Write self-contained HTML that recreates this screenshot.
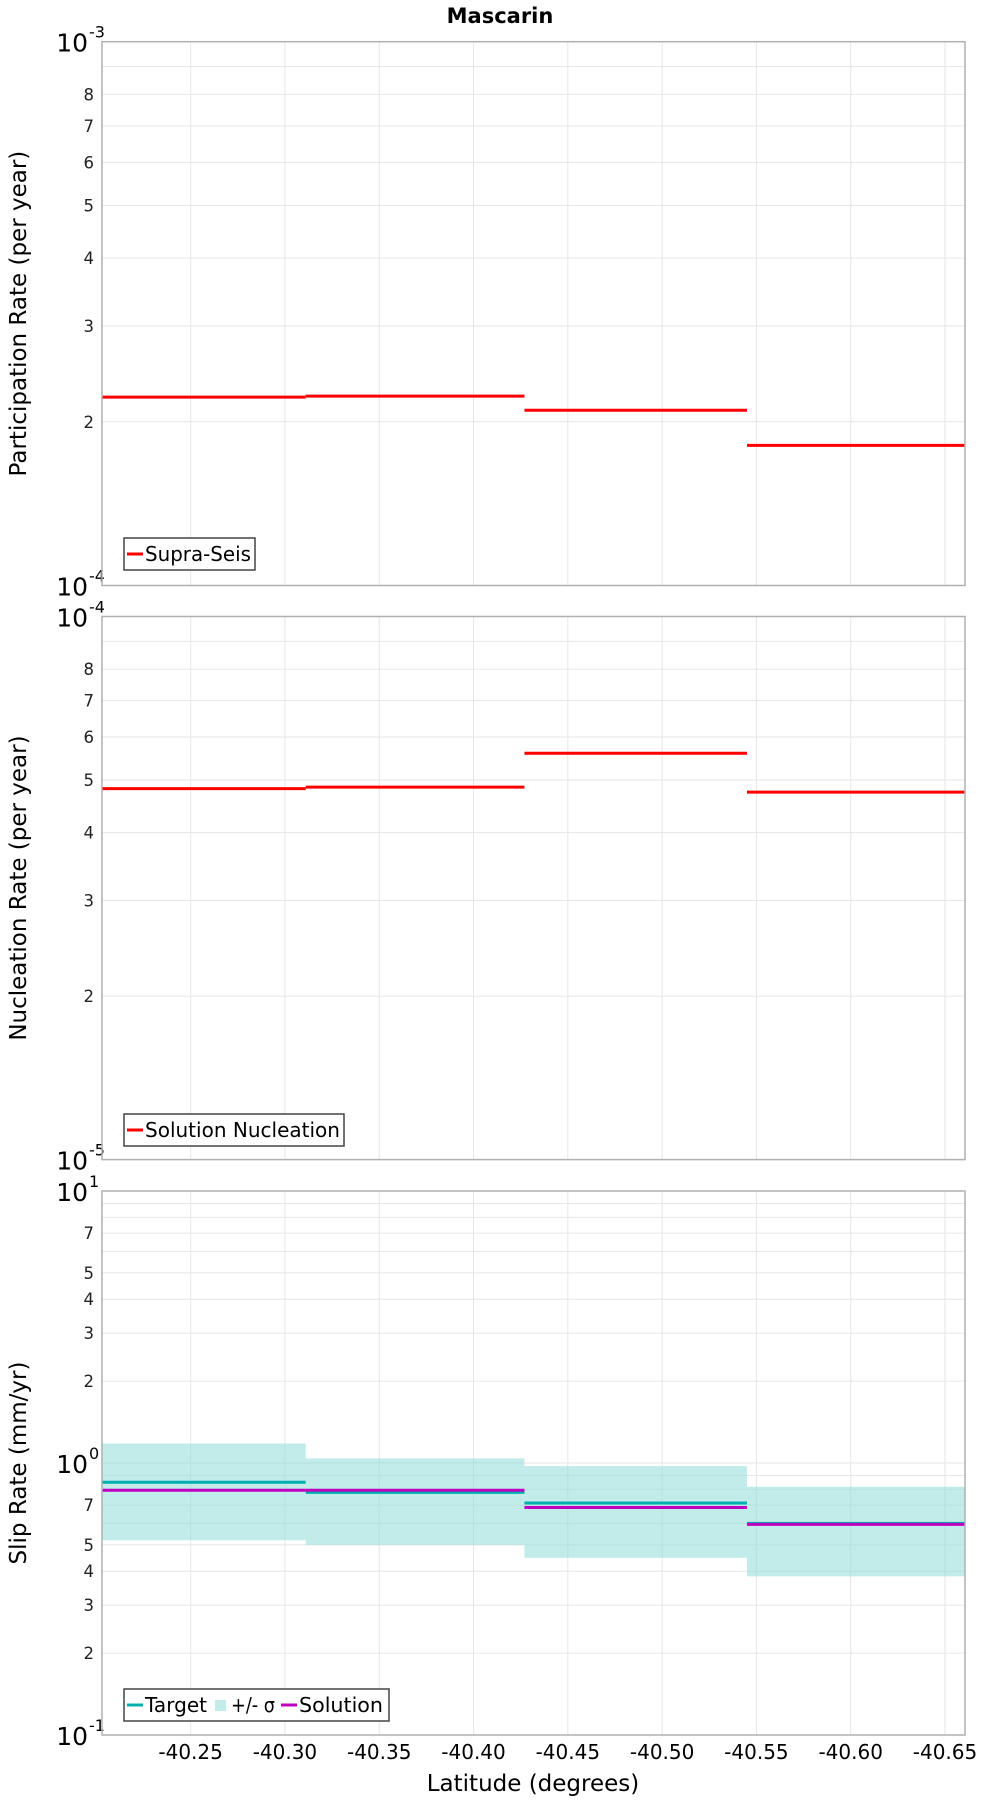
<!DOCTYPE html>
<html><head><meta charset="utf-8"><style>
body{margin:0;background:#fff}
svg text{font-family:"DejaVu Sans","Liberation Sans",sans-serif}
</style></head><body>
<svg id="chart" width="1000" height="1800" xmlns="http://www.w3.org/2000/svg">
<text x="500" y="23" text-anchor="middle" font-size="21" font-weight="bold">Mascarin</text>
</svg>
<script>
const boundaries = [-40.203, -40.311, -40.427, -40.545, -40.6606];
const xTicks = [-40.25, -40.30, -40.35, -40.40, -40.45, -40.50, -40.55, -40.60, -40.65];
const xTickLabels = ["-40.25","-40.30","-40.35","-40.40","-40.45","-40.50","-40.55","-40.60","-40.65"];
const supraSeis = [2.22e-4, 2.23e-4, 2.10e-4, 1.81e-4];
const nucleation = [4.82e-5, 4.85e-5, 5.6e-5, 4.75e-5];
const slipTarget = [0.85, 0.78, 0.713, 0.60];
const slipSolution = [0.794, 0.794, 0.686, 0.595];
const slipUpper = [1.18, 1.04, 0.974, 0.818];
const slipLower = [0.52, 0.50, 0.448, 0.383];
const p1Labels = [2,3,4,5,6,7,8];
const p3Labels = [2,3,4,5,7];

const NS="http://www.w3.org/2000/svg", svg=document.getElementById('chart');
const L=102,R=965;
function xs(v){return L+(v-boundaries[0])/(boundaries[4]-boundaries[0])*(R-L);}
function mk(tag,attrs,parent){const e=document.createElementNS(NS,tag);for(const k in attrs)e.setAttribute(k,attrs[k]);(parent||svg).appendChild(e);return e;}
function panel(top,bot,minExp,maxExp,labels,title,name){
  const g=mk('g',{});
  
  
  const ys=v=>bot-(Math.log10(v)-minExp)/(maxExp-minExp)*(bot-top);
  for(let e=minExp;e<maxExp;e++)for(let m=2;m<=9;m++){
    const y=ys(m*Math.pow(10,e));
    const gl=mk('line',{x1:L,x2:R,y1:y,y2:y,stroke:'#e6e6e6','stroke-width':1},g);
    
    
    if(labels.includes(m)){const t=mk('text',{x:94,y:y+6,'text-anchor':'end','font-size':16.5,fill:'#222'},g);t.textContent=m;
      
      }
  }
  for(let e=minExp+1;e<maxExp;e++){const y=ys(Math.pow(10,e));mk('line',{x1:L,x2:R,y1:y,y2:y,stroke:'#e6e6e6'},g);}
  xTicks.forEach(v=>{const x=xs(v);const vl=mk('line',{x1:x,x2:x,y1:top,y2:bot,stroke:'#e6e6e6'},g);
    
    });
  for(let e=minExp;e<=maxExp;e++){const y=ys(Math.pow(10,e));
    const t=mk('text',{x:88,y:y+10,'text-anchor':'end','font-size':25},g);t.textContent='10';
    
    
    const s=mk('text',{x:89,y:y-4,'font-size':16},g);s.textContent=String(e);
    
    }
  const cy=(top+bot)/2;
  const tt=mk('text',{x:0,y:0,'text-anchor':'middle','font-size':23,transform:`translate(26,${cy}) rotate(-90)`},g);tt.textContent=title;
  
  
  return {g,ys};
}
function frame(top,bot,g){const r=mk('rect',{x:L,y:top,width:R-L,height:bot-top,fill:'none',stroke:'#b0b0b0','stroke-width':1.5},g);
  
  }
function steps(vals,ys,color,g,name,w){vals.forEach((v,i)=>{const y=ys(v);
  const l=mk('line',{x1:xs(boundaries[i]),x2:xs(boundaries[i+1]),y1:y,y2:y,stroke:color,'stroke-width':w||3},g);
  
  });}
function legend(x,y,w,items,g){const lg=mk('g',{},g);
  
  
  mk('rect',{x:x,y:y,width:w,height:32,fill:'#fff',stroke:'#444','stroke-width':1.5},lg);
  let cx=x+3;items.forEach(it=>{
    if(it.band)mk('rect',{x:cx+2,y:y+11,width:11,height:11,fill:'#c2ecea'},lg);
    else mk('line',{x1:cx,x2:cx+16,y1:y+16,y2:y+16,stroke:it.c,'stroke-width':3},lg);
    const t=mk('text',{x:cx+18,y:y+23,'font-size':20,textLength:it.w-6,lengthAdjust:'spacingAndGlyphs'},lg);t.textContent=it.t;
    
    
    cx+=18+it.w;});}

let p=panel(41.7,585.5,-4,-3,p1Labels,'Participation Rate (per year)','participation-panel');
steps(supraSeis,p.ys,'#ff0000',p.g,'supra-seis-step');frame(41.7,585.5,p.g);
legend(124,538,131,[{c:'#ff0000',t:'Supra-Seis',w:112}],p.g);

p=panel(616.5,1159.6,-5,-4,p1Labels,'Nucleation Rate (per year)','nucleation-panel');
steps(nucleation,p.ys,'#ff0000',p.g,'nucleation-step');frame(616.5,1159.6,p.g);
legend(124,1114,220,[{c:'#ff0000',t:'Solution Nucleation',w:201}],p.g);

p=panel(1191,1735,-1,1,p3Labels,'Slip Rate (mm/yr)','slip-rate-panel');
slipUpper.forEach((u,i)=>{const y1=p.ys(u),y2=p.ys(slipLower[i]);
  const r=mk('rect',{x:xs(boundaries[i]),y:y1,width:xs(boundaries[i+1])-xs(boundaries[i]),height:y2-y1,fill:'#8fdcd8','fill-opacity':0.55},p.g);
  
  });
steps(slipTarget,p.ys,'#00b0b0',p.g,'target-step');
steps(slipSolution,p.ys,'#c000c0',p.g,'solution-step');
frame(1191,1735,p.g);
legend(124,1689,265,[{c:'#00b0b0',t:'Target',w:68},{band:true,t:'+/- σ',w:50},{c:'#c000c0',t:'Solution',w:90}],p.g);

xTicks.forEach((v,i)=>{const t=mk('text',{x:xs(v),y:1759,'text-anchor':'middle','font-size':20});t.textContent=xTickLabels[i];
  
  });
const xt=mk('text',{x:533,y:1791,'text-anchor':'middle','font-size':23});xt.textContent='Latitude (degrees)';


</script>
</body></html>
